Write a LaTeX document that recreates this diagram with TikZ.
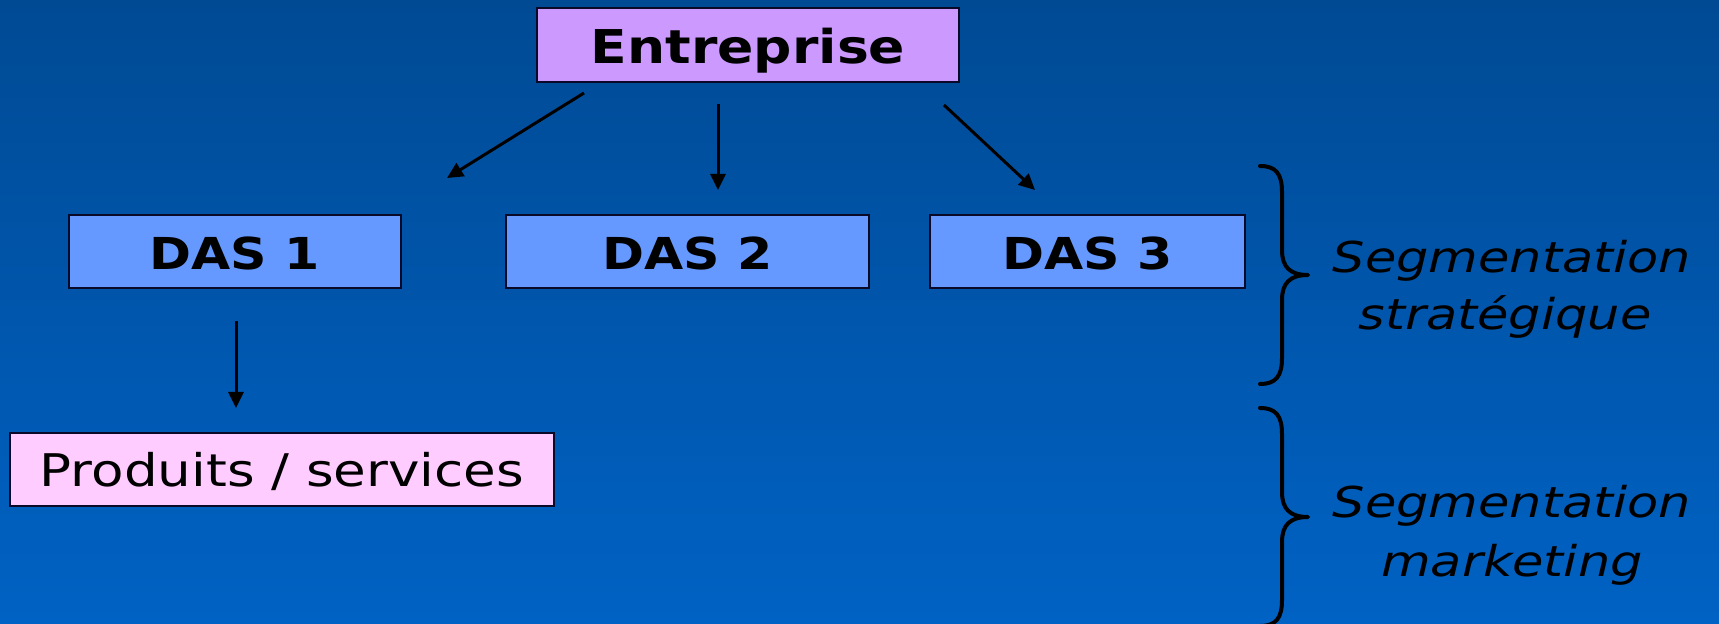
\documentclass[tikz,border=0pt]{standalone}
\usepackage{fontspec}
\setmainfont{DejaVu Sans}
\newfontfamily\boxfont{DejaVu Sans}[FakeStretch=1.15]
\newfontfamily\prodfont{DejaVu Sans}[FakeStretch=1.18]
\newfontfamily\notefont{DejaVu Sans}[FakeStretch=1.2]
\usetikzlibrary{arrows.meta}

\definecolor{bgtop}{RGB}{0,74,148}
\definecolor{bgbot}{RGB}{0,98,196}
\definecolor{entfill}{RGB}{204,153,255}
\definecolor{dasfill}{RGB}{102,153,255}
\definecolor{prodfill}{RGB}{255,204,255}
\definecolor{edge}{RGB}{10,10,40}

\tikzset{
  box/.style={draw=edge, line width=1pt, inner sep=0pt, text=black, text depth=0pt},
  entbox/.style={box, fill=entfill, minimum width=211pt, minimum height=37pt,
    text height=19pt,
    font=\boxfont\bfseries\fontsize{23.3pt}{26pt}\selectfont},
  dasbox/.style={box, fill=dasfill, minimum height=36.5pt,
    text height=18.5pt,
    font=\boxfont\bfseries\fontsize{22pt}{26pt}\selectfont},
  prodbox/.style={box, fill=prodfill, minimum width=272pt, minimum height=36.5pt,
    text height=17pt,
    font=\prodfont\fontsize{22.5pt}{26pt}\selectfont},
  note/.style={anchor=base, inner sep=0pt, text=black,
    font=\notefont\itshape\fontsize{21.25pt}{28.5pt}\selectfont},
  link/.style={line width=1.5pt, draw=black,
    -{Triangle[length=8pt, width=7.5pt]}},
  bracket/.style={line width=2pt, draw=black, line cap=round, line join=round}
}

\begin{document}
\begin{tikzpicture}[x=0.5pt, y=-0.5pt]
  % background
  \shade[top color=bgtop, bottom color=bgbot] (0,0) rectangle (1719,624);
  \useasboundingbox (0,0) rectangle (1719,624);

  % boxes
  \node[entbox] (ent) at (748,45) {Entreprise};
  \node[dasbox, minimum width=166pt] (das1) at (235,251.5) {DAS 1};
  \node[dasbox, minimum width=181.5pt] (das2) at (687.5,251.5) {DAS 2};
  \node[dasbox, minimum width=157.5pt] (das3) at (1087.5,251.5) {DAS 3};
  \node[prodbox] (prod) at (282,469.5) {Produits / services};

  % arrow ends
  \coordinate (a1s) at (584,93);
  \coordinate (a1e) at (447,178);
  \coordinate (a2s) at (718,104);
  \coordinate (a2e) at (718,190);
  \coordinate (a3s) at (944,105);
  \coordinate (a3e) at (1035,190);
  \coordinate (a4s) at (236,321);
  \coordinate (a4e) at (236,408);

  \draw[link] (a1s) -- (a1e);
  \draw[link] (a2s) -- (a2e);
  \draw[link] (a3s) -- (a3e);
  \draw[link] (a4s) -- (a4e);

  % upper brace
  \draw[bracket] (1260,166) .. controls (1276,166) and (1282,174) .. (1282,192)
    -- (1282,250) .. controls (1282,267) and (1290,275) .. (1308,275)
    .. controls (1290,275) and (1282,283) .. (1282,300)
    -- (1282,358) .. controls (1282,376) and (1276,384) .. (1260,384);

  % lower brace
  \draw[bracket] (1260,408) .. controls (1276,408) and (1282,416) .. (1282,434)
    -- (1282,492) .. controls (1282,509) and (1290,517) .. (1308,517)
    .. controls (1290,517) and (1282,525) .. (1282,542)
    -- (1282,600) .. controls (1282,618) and (1276,626) .. (1260,626);

  % labels
  \node[note] (s1a) at (1512,273) {Segmentation};
  \node[note] (s1b) at (1505,330) {stratégique};
  \node[note] (s2a) at (1512,518) {Segmentation};
  \node[note] (s2b) at (1512,577) {marketing};
\end{tikzpicture}
\end{document}
